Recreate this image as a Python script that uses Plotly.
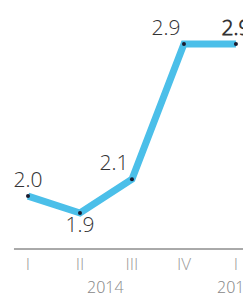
import plotly.graph_objects as go

quarters = ["I", "II", "III", "IV", "I"]
years = ["2014", "2015"]
year_pos = [1.5, 4]
values = [2.0, 1.9, 2.1, 2.9, 2.9]
label_pos = ["top center", "bottom center", "top left", "top left", "top center"]

FONT = "Open Sans Light, Open Sans, sans-serif"
xs = list(range(len(values)))
texts = [f"{v:.1f}" for v in values]
texts[-1] = f"<b>{values[-1]:.1f}</b>"

fig = go.Figure()
fig.add_trace(go.Scatter(
    x=xs, y=values, mode="lines+markers+text",
    line=dict(color="#4BBFE9", width=7),
    marker=dict(color="#1a1a2e", size=4),
    text=texts, textposition=label_pos,
    textfont=dict(family=FONT, size=21, color="#333333", weight=300),
    cliponaxis=False, hoverinfo="skip",
))

fig.add_shape(type="line", xref="x", yref="paper", x0=-0.27, x1=4.4, y0=0, y1=0,
              line=dict(color="#555555", width=1))

for yr, p in zip(years, year_pos):
    fig.add_annotation(x=p, y=0, xref="x", yref="paper", text=yr, showarrow=False,
                       yanchor="middle", yshift=-38,
                       font=dict(family=FONT, size=16, color="#888888", weight=300))

fig.update_layout(
    width=243, height=286,
    margin=dict(l=0, r=0, t=0, b=45),
    paper_bgcolor="white", plot_bgcolor="white",
    showlegend=False,
    xaxis=dict(range=[-0.385, 4.29], tickvals=xs, ticktext=quarters,
               showgrid=False, zeroline=False, showline=False, ticks="",
               ticklabelstandoff=3,
               tickfont=dict(family=FONT, size=17, color="#999999", weight=300)),
    yaxis=dict(range=[1.687, 3.113], visible=False, showgrid=False),
)

fig.write_html("out.html")
